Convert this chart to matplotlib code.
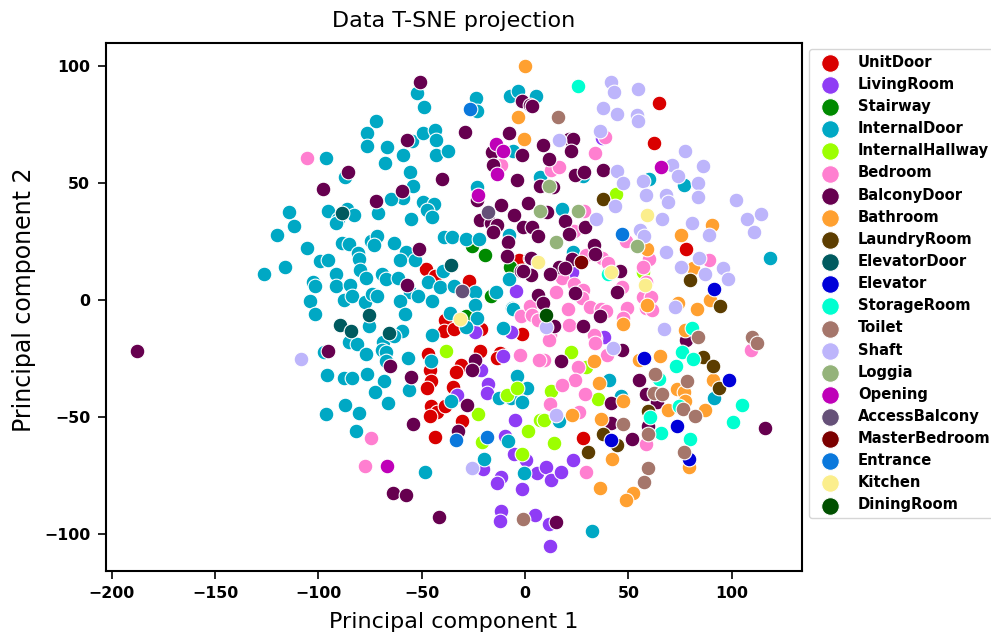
import matplotlib
matplotlib.use('Agg')
import matplotlib.pyplot as plt

unit_door = [(-38.7,-8.8),(-39.1,-13.5),(-34.4,-12.5),(-21.5,-12.5),(-1.3,-14.5),(-21.8,-21.8),(-12.1,-22.8),(-13.7,-24.9),
    (-46.8,-23.2),(-31,-27.8),(-33.4,-30.9),(-46,-30.2),(-45.5,-34.9),(-47.3,-37.9),(-35,-37.5),(-45.5,-45.3),(-42.8,-48),
    (-45.9,-49.7),(-38.9,-45.3),(-30.7,-51.8),(-43.7,-58.8),(-48.1,13.1),(-43.6,10.3),(-27,8.2),(-2.8,17.1),(64.6,84.2),
    (62.6,67),(78,21.8),(28.2,-59.1)]
living_room = [(-6.8,-13.8),(-24.2,-13.8),(-10.8,-24.2),(-22.9,-29),(-21.3,-30.2),(-32.9,-40.6),(-18.1,-36.2),(-18.4,-39.9),
    (-1.6,-39.6),(-4.8,-51.3),(-9.5,-58.4),(-5.2,-65.9),(0.3,-68.4),(-20.2,-72.2),(-11.8,-76),(-13.4,-78.2),(6,-74.1),
    (-1.5,-81),(-11.5,-90.5),(-12.1,-94.7),(5,-92.2),(-4.2,3.8),(23.4,-68.5),(10.2,-71.5),(12.4,-77.1),(17.4,-73.5),
    (11.8,-96),(12,-105.4),(38.3,-15.9),(22.9,11.8),(37.1,69.1)]
stairway = [(-19.4,19.2),(-25.5,22.8),(-16.6,1.7),(-7.3,14.2),(-28.6,-7.1)]
internal_door = [(-52.2,88.6),(-48.9,82.6),(-23.6,86.2),(-23.2,80.8),(-7.4,87.2),(-3.5,89.4),(-72,76.6),(-76.5,71.1),(-76.5,65.8),
    (-67,65.1),(-67.8,58.3),(-59.2,62.1),(-54.6,67.8),(-49.5,71.2),(-43.4,72.6),(-43.1,68.4),(-43.2,61.8),(-37.1,63.5),
    (-55.7,54.7),(-54.2,48.7),(-96.5,60.4),(-87.2,52.4),(-59.2,43.5),(-64.9,42.9),(-71.2,36.9),(-23.1,48.2),(-114,37.6),
    (-111.7,31.5),(-119.8,27.5),(-95.5,38),(-86,39),(-83,36.2),(-90.4,34.5),(-91.5,32.8),(-49.2,41.8),(-44.1,41),(-47.5,38.3),
    (-45.2,35.2),(-55.2,34.5),(-105.6,22.1),(-126.4,11.2),(-116.2,14),(-99.4,16.7),(-95.5,17),(-88.5,24.4),(-85.2,23.9),
    (-80.7,19.9),(-80.4,17.4),(-79.9,12.8),(-76.8,9.5),(-91.5,10.8),(-91.5,5.7),(-84.7,6.5),(-102.8,7.6),(-101.8,5.7),
    (-104.1,-0.7),(-87.5,0.1),(-83.9,1.4),(-77.5,-1),(-73.9,2.3),(-71.8,1.8),(-69.4,11.1),(-67.5,8.8),(-61.5,9.3),(-74.4,25.1),
    (-71.8,27.1),(-73,23.2),(-63.3,24.4),(-57.8,20.6),(-60.4,17),(-53.1,16.8),(-39.9,12.3),(-47.1,7.4),(-41.2,5.3),(-34.5,5.7),
    (-24,3.5),(-14,3.1),(-55.5,3.5),(-51.7,1.8),(-60.7,-0.4),(-45.2,-0.4),(-24,-2.4),(-7.7,9),(-6.1,-3.5),(-39.1,26.8),
    (-35.5,26.8),(-28.7,25.9),(-22.3,26.1),(-7.7,27.8),(-6,63.7),(-101.4,-6.3),(-75.5,-11.1),(-58.3,-6.3),(-85.4,-18.1),
    (-81.5,-19.1),(-77.1,-23.2),(-68.9,-18.1),(-59.7,-13.2),(-63.3,-15.7),(-69.4,-21.4),(-67.2,-22.4),(-67.2,-26.3),
    (-56.5,-25.1),(-97.3,-22.5),(-95.7,-32.1),(-87.8,-33.3),(-83.8,-33.6),(-76.7,-31.8),(-68.1,-34.6),(-72.8,-39.5),
    (-56.2,-38.5),(-87,-45.2),(-80.4,-48.4),(-96.4,-49),(-66.5,-44.3),(-82,-56.3),(-48.6,-73.5),(-44.9,-15),(-36.3,-5.7),
    (-23.4,-7.8),(-28.7,-11.7),(-45.7,-26.1),(-36,-43.5),(-10.8,-12),(-5.7,-3.8),(-3.9,-32.4),(-12.4,-42.2),(-6.8,-42.2),
    (-1.3,-43.9),(0.8,-37.7),(-19.7,-68.1),(-0.5,-74.2),(-8.4,-60.6),(5.3,87.3),(7.3,52.4),(18,39),(60.2,51.7),(76.8,48.9),
    (118.3,17.8),(23.1,20.4),(28,52.7),(40.8,-34.3),(46.5,-41.2),(16.6,-51.8),(91.5,-42),(32.3,-98.8)]
internal_hallway = [(-38.1,-22.1),(-22.9,-48.7),(1.5,-56),(-21,-61),(-1.6,-65.9),(-8.9,-40.6),(-3.7,-37.7),(7.3,-51.3),(44.2,45.3),
    (57.1,11.8),(22.3,-22.2),(29.5,-28.6),(12.4,-39.2),(35.5,-42.3),(9.3,-51.3),(14,-61.3)]
bedroom = [(-105.6,60.8),(-11.6,57.7),(-74.4,-59),(-77.5,-71.2),(-2.4,-23.5),(-1.9,-7.1),(2.4,-2.6),(3.5,-6.4),(6.5,-8.5),(12.4,55.3),
    (16.5,56.6),(28.6,38),(23.6,29.6),(34,62.8),(38.5,69.8),(48.9,25.2),(60.1,17.4),(57.2,14.2),(58.3,7.4),(88.9,17.1),(37.1,17.8),
    (40.2,15.9),(29.5,19.2),(18.1,9.3),(23.9,6.8),(15.1,3.5),(28.1,4),(27.6,0.7),(47.1,5.3),(57.2,1),(20.8,-4),(31.3,-3.3),(36.9,-4),
    (49.2,-3.5),(58.4,-3.5),(61.6,-4.3),(60.9,1.1),(39.2,-5),(21.5,-11),(47.6,-7.8),(12.1,-15),(33.9,-16.4),(33.6,-15),(11.8,-17.4),
    (33.9,-18.5),(39.5,-23.5),(9.3,-25.6),(25.8,-28.9),(24.2,-34.2),(17.8,-36.5),(28.9,-40.2),(12.1,-44.4),(26.2,-48.2),(29.5,-73.8),
    (58.6,-61.5),(109.1,-21.4),(6.9,-25.6)]
balcony_door = [(-50.8,93.3),(-1.3,85),(2.4,83.3),(-29.1,71.7),(-7.6,71.5),(-57.3,68.4),(-15.8,63.1),(-1.6,62.1),(-15.4,57.7),(-85.9,54.7),
    (-98,47.4),(-40,51.7),(-4,51),(-59.4,46.3),(-72.3,42.2),(-23.4,42.7),(-11.8,40.7),(1.6,41.3),(-5.2,36.2),(-21.8,34.2),(-16.5,32.8),
    (-13.7,32.1),(-0.8,31.1),(-15.4,28.9),(-8.4,24.8),(-8.9,18.8),(2.4,17.8),(-1.9,12.4),(-51.2,21.8),(-57.3,6.4),(3.5,83),(8.9,66.1),
    (11.6,60.1),(21.5,68.7),(23.1,68.8),(22.1,63.7),(24.2,53.3),(28.3,54.6),(37.9,55.6),(13.7,48.2),(7.3,48.7),(10.5,37.6),(19.4,33.5),
    (3.5,31.1),(6.1,27.1),(21.3,28.2),(29,31.1),(33.4,23.5),(33.9,19.5),(22.6,17.4),(2.9,17.8),(16.6,14),(12.1,11.1),(2.9,10.7),
    (-1.1,12.4),(19.4,13.5),(46,12.3),(44.4,3.1),(6.1,2.1),(8.9,-1.4),(24.2,2.9),(28.2,-11.4),(36.3,-7.1),(46.8,-21.4),(17.3,-26.4),
    (14,-11.1),(54.9,-34.2),(58.4,-40.2),(64,-43.7),(41.5,-44.1),(41.5,-52.7),(51.7,-59.4),(59.7,-53.8),(77.8,-17.4),(115.9,-54.7),
    (15,-95),(-95.3,-22.1),(-55.2,-33),(-65.4,-28.2),(-54.2,-53.1),(-28.1,-45),(-32.6,-56),(-64.1,-82.8),(-57.8,-83.6),(-41.6,-93),
    (-24.2,-25.6),(-25.8,-29.9),(-187.9,-21.8)]
bathroom = [(0,100),(-3.2,78.3),(-0.5,68.8),(90.4,31.9),(75.4,27.6),(58.9,21.8),(81.4,13.4),(89.3,0),(58.9,-2.1),(73.8,-1.4),(83.4,-4),
    (47.3,-10.4),(77.6,-12.8),(54.9,-25.6),(65.4,-24.2),(33.4,-26.4),(35.8,-35.6),(90.9,-34.3),(73.5,-38),(77,-39.5),(47.6,-43.4),
    (22.9,-49.4),(36.6,-51),(69.4,-47.3),(77.5,-43.2),(87,-47.3),(42,-68.1),(79.4,-71.6),(36.2,-80.5),(52.3,-82.6),(48.8,-85.6)]
laundry_room = [(37.8,43.2),(79.9,8.5),(94.4,-2.6),(86,-24.5),(91,-28.2),(93.6,-37.6),(59.7,-47.7),(37.9,-57.4),(44.7,-62.3),(30.5,-65)]
elevator_door = [(-89.3,-10.7),(-84.3,-13.2),(-65.7,-14.2),(-75.5,-6.4),(-36,14.7),(-88.8,37)]
elevator = [(57.6,-24.9),(98.9,-34.2),(73.6,-53.8),(79.3,-68.1),(41.6,-60.1),(91.2,4.6)]
storage_room = [(25.8,91.2),(39.9,11.1),(80.7,-12.1),(76,-22.5),(81.5,-25.5),(72.8,-28.5),(64.6,-33.9),(74.6,-45.6),(60.5,-50),(65.9,-56.8),
    (79.8,-59.5),(105.2,-44.9),(100.6,-52.3)]
toilet = [(16,78.1),(83.9,-16.1),(109.8,-15.9),(112.2,-18.5),(63,-31.6),(78.5,-34.6),(62.5,-40),(66.5,-40.3),(76.2,-46.9),(82.3,-49.9),
    (47.5,-53.3),(59.6,-57.3),(76.7,-65),(59.4,-72.1),(57.6,-78.1),(-1.1,-93.9)]
shaft = [(41.5,92.9),(43,88.8),(54.6,90.2),(37.9,82),(44.7,79.5),(54.2,79),(54.6,76.6),(16.5,68.5),(36.3,72.1),(77.5,63.4),(71,57.8),(86.2,57.1),
    (44.4,55),(73.8,52.7),(83.9,50),(47.6,49.9),(57,50.6),(58.3,44.9),(68.1,44.9),(69.4,41.6),(83.8,43.9),(102.2,42.7),(43.4,40.2),(114,36.8),
    (107.4,34.5),(111,28.8),(34.4,34.5),(66.3,34.5),(80.9,32.9),(88.8,27.8),(55.7,29.9),(57.6,27.2),(68.1,20.6),(75.4,14.2),(84.3,17.8),
    (87.2,11.1),(96,13.4),(98,8.8),(72.6,-2.9),(67.3,-12.5),(42.5,-20.7),(10.2,-11.7),(15,-49.1),(-25.5,-72.1),(-108.6,-25.2)]
loggia = [(11.6,48.7),(25.8,38),(7.3,38),(14.9,24.9),(54.1,22.8)]
opening = [(-14.2,66.7),(-10.5,63.4),(-13.7,53.8),(-22.6,44.9),(65.9,56.7),(-67,-70.9)]
access_balcony = [(-17.8,37.7),(-30.7,3.8)]
master_bedroom = [(27.1,16.1)]
entrance = [(-26.6,81.6),(46.8,28.2),(-33.6,-60.1),(-18.2,-58.8)]
kitchen = [(58.9,36.2),(6.4,16.1),(58.1,6.4),(41.6,11.7),(-31.5,-8.1)]
dining_room = [(10,-6.7)]

classes = [('UnitDoor', unit_door, '#d90000'), ('LivingRoom', living_room, '#8f3cf5'), ('Stairway', stairway, '#008a00'),
    ('InternalDoor', internal_door, '#00a8c4'), ('InternalHallway', internal_hallway, '#9cff00'), ('Bedroom', bedroom, '#ff7fd0'),
    ('BalconyDoor', balcony_door, '#66004f'), ('Bathroom', bathroom, '#ffa030'), ('LaundryRoom', laundry_room, '#5c3d00'),
    ('ElevatorDoor', elevator_door, '#005a5f'), ('Elevator', elevator, '#0000d9'), ('StorageRoom', storage_room, '#00ffd0'),
    ('Toilet', toilet, '#a5766b'), ('Shaft', shaft, '#bdb5fb'), ('Loggia', loggia, '#94b37a'), ('Opening', opening, '#bf00b8'),
    ('AccessBalcony', access_balcony, '#655078'), ('MasterBedroom', master_bedroom, '#7c0000'), ('Entrance', entrance, '#0a78dc'),
    ('Kitchen', kitchen, '#fbee8c'), ('DiningRoom', dining_room, '#005000')]

fig = plt.figure(figsize=(9.91, 6.35), dpi=100)
ax = fig.add_axes([105.5/991, 1-571/635, 696.5/991, 528.5/635])

for name, pts, col in classes:
    xs = [p[0] for p in pts]
    ys = [p[1] for p in pts]
    ax.scatter(xs, ys, s=112, c=col, edgecolors='white', linewidths=0.8, label=name)

ax.set_xlim(-203, 134)
ax.set_ylim(-116, 110)
ax.set_xticks([-200, -150, -100, -50, 0, 50, 100])
ax.set_yticks([-100, -50, 0, 50, 100])
ax.tick_params(axis='both', labelsize=11.3, width=1.2, length=6, pad=5)
for t in ax.get_xticklabels() + ax.get_yticklabels():
    t.set_fontweight('bold')
for s in ax.spines.values():
    s.set_linewidth(1.5)

ax.set_title('Data T-SNE projection', fontsize=16, pad=11)
ax.set_xlabel('Principal component 1', fontsize=16, labelpad=8)
ax.set_ylabel('Principal component 2', fontsize=17, labelpad=6, y=0.514)

ax.legend(loc='upper left', bbox_to_anchor=(1.0, 1.002), borderaxespad=0.5, markerscale=1.2,
          prop={'weight': 'bold', 'size': 10.6}, labelspacing=0.485, handletextpad=0.9, borderpad=0.4)

fig.savefig('out.png', dpi=100)
